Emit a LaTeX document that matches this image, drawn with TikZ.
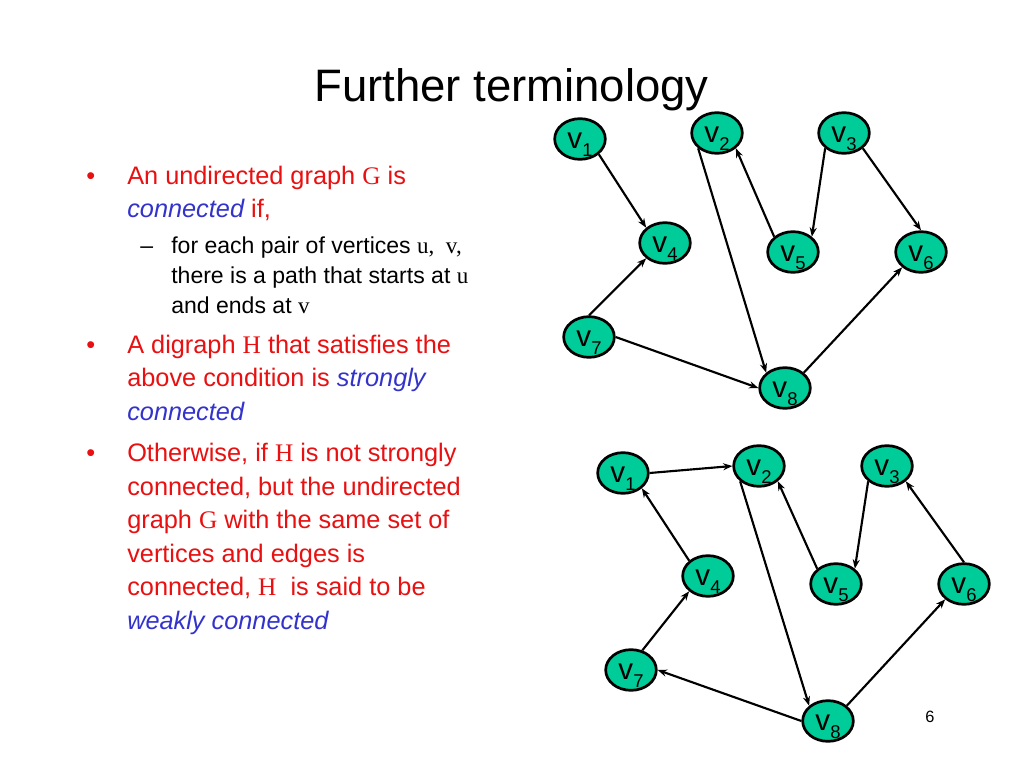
\documentclass[tikz,border=0pt]{standalone}
\usepackage{fontspec}
\setmainfont{Liberation Sans}
\newfontfamily\tms{Liberation Serif}
\usetikzlibrary{arrows.meta,shapes.geometric,calc}
\definecolor{txtred}{RGB}{232,16,16}
\definecolor{txtblue}{RGB}{51,51,204}
\definecolor{vgreen}{RGB}{0,204,153}
\tikzset{
  vtx/.style={ellipse, draw=black, fill=vgreen, line width=1.9pt, inner sep=0pt,
    minimum width=35.6pt, minimum height=28.6pt},
  vlab/.style={anchor=base, inner sep=0pt},
  arr/.style={line width=1.5pt, -{Stealth[length=6.5pt,width=5pt]}},
  ttl/.style={anchor=base, inner sep=0pt, font=\fontsize{32}{38}\selectfont},
  bodyr/.style={anchor=base west, inner sep=0pt, text=txtred, font=\fontsize{17.8}{23.5}\selectfont},
  bul/.style={anchor=base west, inner sep=0pt, text=txtred, font=\fontsize{17.8}{23.5}\selectfont},
  subt/.style={anchor=base west, inner sep=0pt, text=black, font=\fontsize{16.2}{21}\selectfont},
  pnum/.style={inner sep=0pt, font=\fontsize{11.5}{14}\selectfont},
}
\newcommand\emb[1]{\textcolor{txtblue}{\itshape #1}}
\newcommand\vnode[4]{%
  \node[vtx] (#1) at (#2,#3) {};
  \node[vlab] (#1t) at ([yshift=-6.8pt]#1.center) {\fontsize{20.8}{24}\selectfont v\raisebox{-5.6pt}{\fontsize{13}{15}\selectfont #4}};
}
\begin{document}
\begin{tikzpicture}[x=0.703125pt, y=-0.703125pt]
\useasboundingbox (0,0) rectangle (1024,768);
\fill[white] (0,0) rectangle (1024,768);

% title
\node[ttl] (title) at (511.5,102) {Further terminology};

% text
\node[bul] (bu1) at (86,185) {\textbullet};
\node[bodyr] (l1) at (127,185) {An undirected graph {\tms G} is};
\node[bodyr] (l2) at (127,217.5) {\emb{connected} if,};
\node[subt] (d1) at (140,253.5) {\textendash};
\node[subt] (s1) at (171,253.5) {for each pair of vertices {\tms u,\ \ v,}};
\node[subt] (s2) at (171,283.5) {there is a path that starts at {\tms u}};
\node[subt] (s3) at (171,314) {and ends at {\tms v}};
\node[bul] (bu2) at (86,353) {\textbullet};
\node[bodyr] (l3) at (127,353) {A digraph {\tms H} that satisfies the};
\node[bodyr] (l4) at (127,386.5) {above condition is \emb{strongly}};
\node[bodyr] (l5) at (127,420) {\emb{connected}};
\node[bul] (bu3) at (86,461.5) {\textbullet};
\node[bodyr] (l6) at (127,461.5) {Otherwise, if {\tms H} is not strongly};
\node[bodyr] (l7) at (127,495) {connected, but the undirected};
\node[bodyr] (l8) at (127,528) {graph {\tms G} with the same set of};
\node[bodyr] (l9) at (127,562) {vertices and edges is};
\node[bodyr] (l10) at (127,595.5) {connected, {\tms H}\ \ is said to be};
\node[bodyr] (l11) at (127,629) {\emb{weakly connected}};

% top graph
\vnode{a1}{580}{139}{1}
\vnode{a2}{717}{133}{2}
\vnode{a3}{844}{133}{3}
\vnode{a4}{665}{243}{4}
\vnode{a5}{793}{252}{5}
\vnode{a6}{921}{252}{6}
\vnode{a7}{589}{337}{7}
\vnode{a8}{785}{388}{8}
\draw[arr] (a1.south east) -- (a4.north west);
\draw[arr] (a2.south west) -- (a8.north west);
\draw[arr] (a5.north west) -- (a2.south east);
\draw[arr] (a3.south west) -- (a5.north east);
\draw[arr] (a3.south east) -- (a6.north);
\draw[arr] (a7.north) -- (a4.south west);
\draw[arr] (a7.east) -- (a8.west);
\draw[arr] (a8.north east) -- (a6.south west);

% bottom graph
\vnode{b1}{623}{473}{1}
\vnode{b2}{759}{466}{2}
\vnode{b3}{887}{466}{3}
\vnode{b4}{708}{576}{4}
\vnode{b5}{836}{584}{5}
\vnode{b6}{964}{584}{6}
\vnode{b7}{631}{670}{7}
\vnode{b8}{828}{721}{8}
\draw[arr] (b1.east) -- (b2.west);
\draw[arr] (b4.north west) -- (b1.south east);
\draw[arr] (b2.south west) -- (b8.north west);
\draw[arr] (b5.north west) -- (b2.south east);
\draw[arr] (b3.south west) -- (b5.north east);
\draw[arr] (b6.north) -- (b3.south east);
\draw[arr] (b7.60) -- (b4.south west);
\draw[arr] (b8.west) -- (b7.east);
\draw[arr] (b8.north east) -- (b6.south west);

\node[pnum] (pg) at (930,717) {6};
\end{tikzpicture}
\end{document}
